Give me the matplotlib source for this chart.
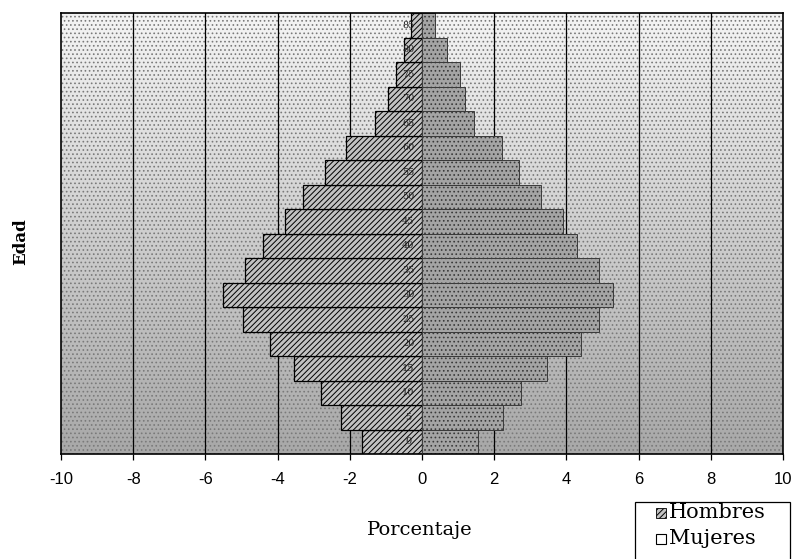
import numpy as np
import matplotlib
matplotlib.use("Agg")
import matplotlib.pyplot as plt
from matplotlib.patches import Rectangle

# Age groups (lower bound of each 5-year band)
edades = [0, 5, 10, 15, 20, 25, 30, 35, 40, 45, 50, 55, 60, 65, 70, 75, 80, 85]
# Percentage of the population in each band
hombres = [1.65, 2.25, 2.8, 3.55, 4.2, 4.95, 5.5, 4.9, 4.4, 3.8, 3.3, 2.7, 2.1, 1.3, 0.94, 0.72, 0.5, 0.3]
mujeres = [1.55, 2.25, 2.75, 3.45, 4.4, 4.9, 5.3, 4.9, 4.3, 3.9, 3.3, 2.7, 2.22, 1.45, 1.2, 1.05, 0.69, 0.35]
xticks = [-10, -8, -6, -4, -2, 0, 2, 4, 6, 8, 10]
series = ["Hombres", "Mujeres"]

plt.rcParams["hatch.linewidth"] = 0.7

W, H = 798, 559
fig = plt.figure(figsize=(W / 100, H / 100), dpi=100)
ax = fig.add_axes([61 / W, 1 - 454 / H, (783 - 61) / W, (454 - 13) / H])

# grainy gray backdrop: lighter towards the top
grad = np.linspace(0.0, 1.0, 256).reshape(-1, 1)
ax.imshow(grad, extent=[-10, 10, -0.5, len(edades) - 0.5], aspect="auto",
          cmap="gray", vmin=-2.2, vmax=1.15, origin="lower", zorder=0)
ax.add_patch(Rectangle((0, 0), 1, 1, transform=ax.transAxes, facecolor="none",
                       hatch="....", edgecolor="#7a7a7a", lw=0, zorder=0.5))

# vertical grid
for t in xticks[1:-1]:
    if t == 0:
        continue
    ax.axvline(t, color="black", lw=0.9, zorder=1)

y = np.arange(len(edades))
ax.barh(y, [-v for v in hombres], height=1.0, color="#c2c2c2", hatch="//////",
        edgecolor="black", lw=0.9, zorder=2, label=series[0])
ax.barh(y, mujeres, height=1.0, color="#a4a4a4", hatch="....",
        edgecolor="#3a3a3a", lw=0.7, zorder=2, label=series[1])
ax.axvline(0, color="#444444", lw=0.8, ls=(0, (1, 1.5)), zorder=3)

for yi, e in zip(y, edades):
    ax.text(-0.38, yi, str(e), ha="center", va="center", fontsize=7,
            family="DejaVu Serif", color="#222222", zorder=4)

ax.set_xlim(-10, 10)
ax.set_ylim(-0.5, len(edades) - 0.5)
ax.set_xticks(xticks)
ax.set_xticklabels([str(t) for t in xticks], family="Liberation Sans", fontsize=12)
ax.set_yticks([])
ax.tick_params(axis="x", direction="out", length=4, width=0.9, pad=9)
for s in ax.spines.values():
    s.set_linewidth(1.2)
    s.set_color("black")

fig.text(21 / W, 1 - 242 / H, "Edad", rotation=90, ha="center", va="center",
         family="DejaVu Serif", fontweight="bold", fontsize=12)
fig.text(420 / W, 1 - 530 / H, "Porcentaje", ha="center", va="center",
         family="DejaVu Serif", fontsize=14)

# legend box, running off the bottom edge of the figure
fig.add_artist(Rectangle((635 / W, -0.02), (790 - 635) / W, 0.02 + (H - 502) / H,
                         transform=fig.transFigure, facecolor="white",
                         edgecolor="black", lw=0.9))
swatch_w, swatch_h = 10 / W, 10 / H
for name, yc, style in [(series[0], 513, dict(facecolor="#c2c2c2", hatch="//////", edgecolor="black", lw=0.6)),
                        (series[1], 539, dict(facecolor="white", edgecolor="black", lw=0.8))]:
    fig.add_artist(Rectangle((656 / W, 1 - yc / H - swatch_h / 2), swatch_w, swatch_h,
                             transform=fig.transFigure, **style))
    fig.text(669 / W, 1 - yc / H, name, ha="left", va="center",
             family="DejaVu Serif", fontsize=15)

fig.savefig("out.png", dpi=100)
